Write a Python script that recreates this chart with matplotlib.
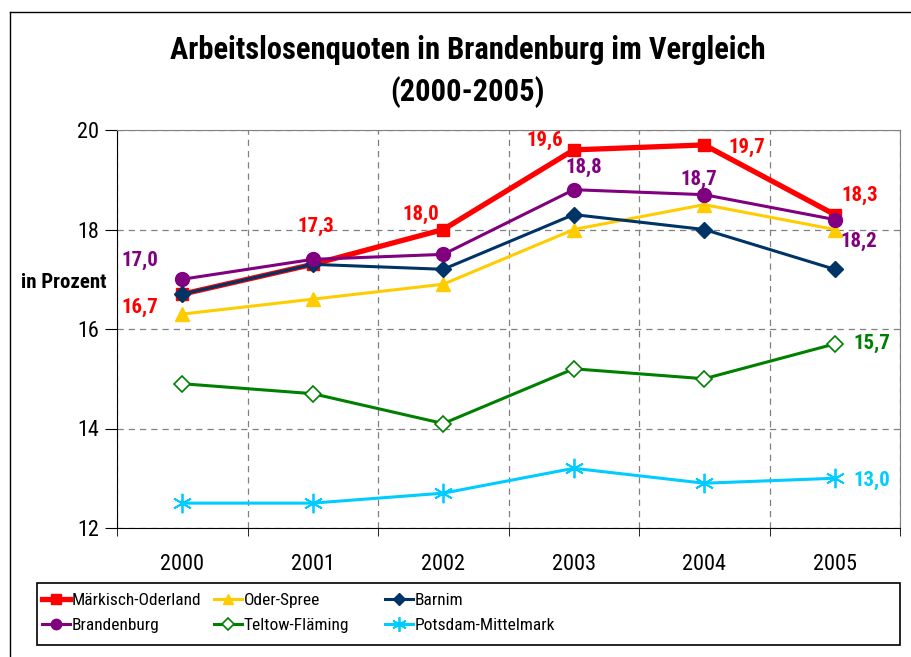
import numpy as np
import matplotlib.pyplot as plt
from matplotlib.lines import Line2D
from matplotlib.patches import Rectangle

plt.rcParams['font.family'] = ['Roboto Condensed', 'DejaVu Sans']

jahre = ["2000", "2001", "2002", "2003", "2004", "2005"]

maerkisch_oderland = [16.7, 17.3, 18.0, 19.6, 19.7, 18.3]
oder_spree = [16.3, 16.6, 16.9, 18.0, 18.5, 18.0]
barnim = [16.7, 17.3, 17.2, 18.3, 18.0, 17.2]
brandenburg = [17.0, 17.4, 17.5, 18.8, 18.7, 18.2]
teltow_flaeming = [14.9, 14.7, 14.1, 15.2, 15.0, 15.7]
potsdam_mittelmark = [12.5, 12.5, 12.7, 13.2, 12.9, 13.0]

fig = plt.figure(figsize=(9.11, 6.57), dpi=100)
ax = fig.add_axes([117 / 911, 1 - 528 / 657, (900 - 117) / 911, (528 - 130) / 657])

x = np.arange(len(jahre))

ax.plot(x, oder_spree, color="#FFCC00", lw=2.2, marker="^", ms=10, label="Oder-Spree", zorder=3)
ax.plot(x, teltow_flaeming, color="#008000", lw=2.2, marker="D", ms=8, mfc="white",
        mec="#008000", mew=1.2, label="Teltow-Fläming", zorder=3)
ax.plot(x, potsdam_mittelmark, color="#00CCFF", lw=2.2, marker=(6, 2, 0), ms=14, mew=1.3,
        label="Potsdam-Mittelmark", zorder=3)
ax.plot(x, maerkisch_oderland, color="#FF0000", lw=3.8, marker="s", ms=9, label="Märkisch-Oderland", zorder=4)
ax.plot(x, barnim, color="#003366", lw=2.2, marker="D", ms=8, label="Barnim", zorder=5)
ax.plot(x, brandenburg, color="#800080", lw=2.2, marker="o", ms=10, label="Brandenburg", zorder=6)

# data labels
labels = [
    (0, 17.0, "17,0", "#800080", (-42, 19)),
    (0, 16.7, "16,7", "#FF0000", (-42, -13)),
    (1, 17.3, "17,3", "#FF0000", (3, 38)),
    (2, 18.0, "18,0", "#FF0000", (-22, 15)),
    (3, 19.6, "19,6", "#FF0000", (-29, 9)),
    (3, 18.8, "18,8", "#800080", (10, 22)),
    (4, 18.7, "18,7", "#800080", (-5, 15)),
    (4, 19.7, "19,7", "#FF0000", (43, -3)),
    (5, 18.3, "18,3", "#FF0000", (25, 19)),
    (5, 18.2, "18,2", "#800080", (24, -22)),
    (5, 15.7, "15,7", "#008000", (37, 0)),
    (5, 13.0, "13,0", "#00CCFF", (37, -2)),
]
for xi, yi, txt, col, off in labels:
    ax.annotate(txt, (xi, yi), xytext=off, textcoords="offset pixels", ha="center", va="center",
                color=col, fontsize=15, fontweight="bold", zorder=7)

ax.set_xlim(-0.5, 5.5)
ax.set_ylim(12, 20)
ax.set_yticks([12, 14, 16, 18, 20])
ax.set_xticks(x)
ax.set_xticklabels(jahre)
ax.set_xticks(np.arange(-0.5, 6, 1), minor=True)
ax.tick_params(axis="x", which="major", length=0, pad=19, labelsize=16)
ax.tick_params(axis="x", which="minor", length=6, direction="out", color="black")
ax.tick_params(axis="y", length=9, direction="out", labelsize=16, pad=4)

ax.grid(True, axis="y", linestyle=(0, (5, 4)), color="#808080", lw=0.9)
ax.grid(True, axis="x", which="minor", linestyle=(0, (5, 4)), color="#808080", lw=0.9)
ax.set_axisbelow(True)

ax.spines["top"].set_color("#808080")
ax.spines["right"].set_color("#808080")

fig.text(21 / 911, 1 - 283 / 657, "in Prozent", fontsize=15, fontweight="bold", ha="left", va="center")

fig.text(468 / 911, 1 - 50 / 657, "Arbeitslosenquoten in Brandenburg im Vergleich",
         fontsize=22, fontweight="bold", ha="center", va="center")
fig.text(468 / 911, 1 - 92 / 657, "(2000-2005)", fontsize=22, fontweight="bold", ha="center", va="center")

# outer frame
fig.add_artist(Line2D([10 / 911, 10 / 911], [0, 1 - 12 / 657], color="black", lw=1))
fig.add_artist(Line2D([10 / 911, 1], [1 - 12 / 657, 1 - 12 / 657], color="black", lw=1))

# legend box
fig.add_artist(Rectangle((37 / 911, 1 - 645 / 657), (900 - 37) / 911, (645 - 583) / 657,
                         fill=False, edgecolor="black", lw=1.2))

handles, names = ax.get_legend_handles_labels()
spalten = [(["Märkisch-Oderland", "Brandenburg"], 42),
           (["Oder-Spree", "Teltow-Fläming"], 214),
           (["Barnim", "Potsdam-Mittelmark"], 385)]
for eintraege, xpos in spalten:
    h = [handles[names.index(n)] for n in eintraege]
    fig.legend(h, eintraege, loc="upper left", bbox_to_anchor=(xpos / 911, 1 - 593 / 657),
               fontsize=12.5, frameon=False, handlelength=1.6, handletextpad=0.1,
               labelspacing=0.55, borderaxespad=0, borderpad=0, markerscale=0.75)

fig.savefig("out.png", dpi=100)
